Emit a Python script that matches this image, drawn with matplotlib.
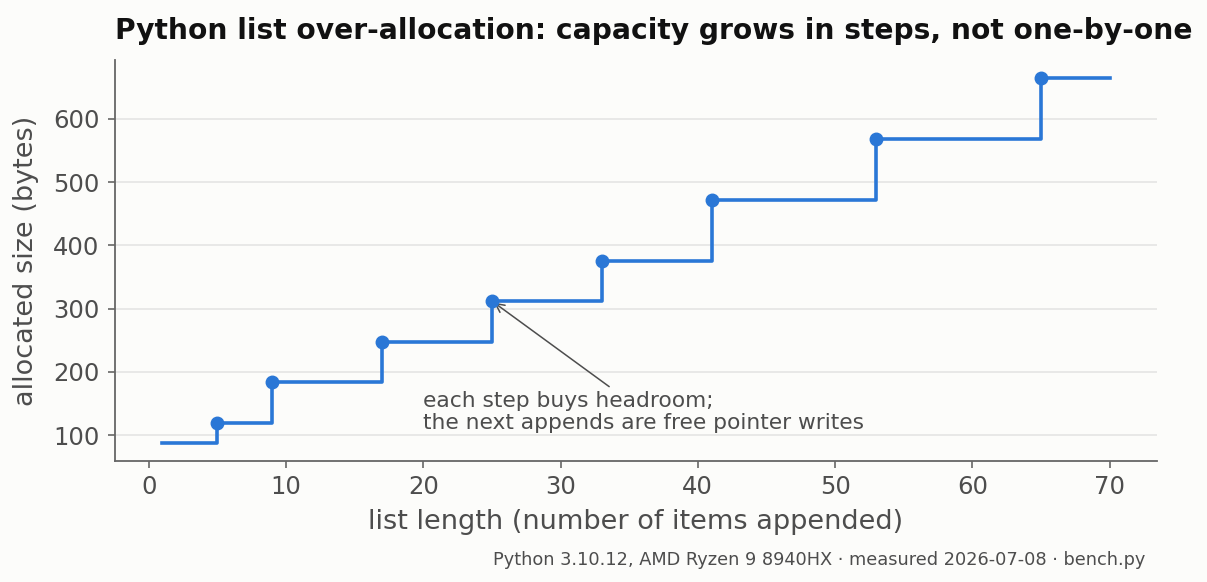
import matplotlib
matplotlib.use("Agg")
import matplotlib.pyplot as plt

# list length where capacity changes, and allocated size there (bytes)
step_len = [1, 5, 9, 17, 25, 33, 41, 53, 65]
step_size = [88, 120, 184, 248, 312, 376, 472, 568, 664]
last_len = 70

bg = "#fcfcfa"
blue = "#2a77d6"
grey = "#4d4d4d"

fig = plt.figure(figsize=(12.07, 5.82), dpi=100, facecolor=bg)
ax = fig.add_axes([0.0953, 0.2079, 0.8633, 0.689], facecolor=bg)

xs = step_len + [last_len]
ys = step_size + [step_size[-1]]
ax.step(xs, ys, where="post", color=blue, lw=2.6, zorder=3)
ax.plot(step_len[1:], step_size[1:], "o", color=blue, ms=9, zorder=4)

ax.annotate("each step buys headroom;\nthe next appends are free pointer writes",
            xy=(25, 312), xytext=(20, 104), ha="left", va="bottom",
            fontsize=15.7, color=grey, linespacing=1.1,
            arrowprops=dict(arrowstyle="->", color=grey, lw=1.1))

ax.set_yticks([100, 200, 300, 400, 500, 600])
ax.grid(axis="y", color="#e6e6e6", lw=1.3)
ax.set_axisbelow(True)
for s in ["top", "right"]:
    ax.spines[s].set_visible(False)
for s in ["left", "bottom"]:
    ax.spines[s].set_color("#666666")
    ax.spines[s].set_linewidth(1.3)
ax.tick_params(colors="#666666", labelcolor=grey, labelsize=17.5, length=5, width=1.2)
ax.tick_params(axis="y", pad=6)
ax.tick_params(axis="x", pad=5)

ax.set_xlabel("list length (number of items appended)", fontsize=19.5, color=grey, labelpad=7)
ax.set_ylabel("allocated size (bytes)", fontsize=19.5, color=grey, labelpad=10)
ax.set_title("Python list over-allocation: capacity grows in steps, not one-by-one",
             loc="left", fontsize=20.25, fontweight="bold", color="#111111", pad=15)

fig.text(0.949, 0.022, "Python 3.10.12, AMD Ryzen 9 8940HX · measured 2026-07-08 · bench.py",
         ha="right", va="bottom", fontsize=12.8, color=grey)

fig.savefig("out.png", dpi=100, facecolor=bg)
